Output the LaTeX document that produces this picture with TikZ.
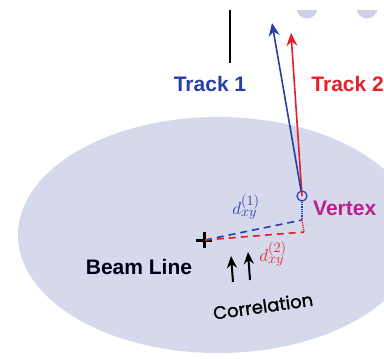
\documentclass[tikz,border=0pt]{standalone}
\usepackage{fontspec}
\setsansfont{Liberation Sans}
\newfontfamily\handfont[FakeBold=1.2]{Poppins}
\usetikzlibrary{arrows.meta}

\definecolor{beamspot}{RGB}{214,216,235}
\definecolor{padgray}{RGB}{206,209,229}
\definecolor{trkblue}{RGB}{38,62,172}
\definecolor{trkred}{RGB}{226,34,42}
\definecolor{vtxmag}{RGB}{184,32,140}

\tikzset{
  lbl/.style={font=\sffamily\bfseries\fontsize{21}{24}\selectfont, inner sep=0pt},
  dlbl/.style={font=\fontsize{19}{22}\selectfont, inner sep=0pt},
  corrlbl/.style={font=\handfont\fontsize{18}{21}\selectfont, inner sep=0pt},
  trkarrow/.style={line width=1.6pt, -{Stealth[length=13pt,width=11pt]}},
  dca/.style={line width=1.6pt, dash pattern=on 7pt off 5pt},
  proj/.style={line width=1.3pt, densely dotted},
  corrarrow/.style={line width=2pt, -{Stealth[length=12pt,width=10pt]}}
}

\begin{document}
\begin{tikzpicture}[x=1pt,y=-1pt]
\useasboundingbox (0,0) rectangle (384,359);
\begin{scope}
\clip (0,0) rectangle (384,359);

% transverse beam spot and detector pads
\begin{scope}
\clip (0,10) rectangle (384,359);
\fill[beamspot] (218,235) ellipse [x radius=200, y radius=118];
\fill[padgray] (307,8) circle (10.5);
\fill[padgray] (367,8) circle (10.5);
\end{scope}
\draw[line width=1.3pt] (230,10) -- (230,63);

% points
\coordinate (beam) at (205,240);
\coordinate (tip1) at (272,23);
\coordinate (tip2) at (291,33);
\coordinate (dca1) at (302,220);
\coordinate (dca2) at (304,232);
\node[draw=trkblue, circle, line width=1.2pt, minimum size=10pt, inner sep=0pt] (vertex) at (302,196) {};

% beam line
\draw[line width=3pt] (196,240) -- (212,240) (204,232) -- (204,248);

% tracks
\draw[trkarrow, trkred] (vertex.center) -- (tip2);
\draw[trkarrow, trkblue] (vertex) -- (tip1);

% transverse distances
\draw[dca, trkblue] (beam) -- (dca1);
\draw[dca, trkred] (beam) -- (dca2);
\draw[proj, trkblue] (vertex) -- (dca1);
\draw[proj, trkred] (dca1) -- (dca2);

% correlation arrows
\coordinate (c1s) at (233,282);
\coordinate (c1e) at (231,256);
\coordinate (c2s) at (250,280);
\coordinate (c2e) at (248,252);
\draw[corrarrow] (c1s) -- (c1e);
\draw[corrarrow] (c2s) -- (c2e);

% labels
\node[lbl, trkblue] (trk1) at (210,84) {Track 1};
\node[lbl, trkred, anchor=east] (trk2) at (384,84) {Track 2};
\node[lbl, vtxmag, anchor=west] (vtxlbl) at (313,208) {Vertex};
\node[lbl, black!90!blue] (beamlbl) at (139,267) {Beam Line};
\node[dlbl, trkblue] (d1) at (246,207) {$d_{xy}^{(1)}$};
\node[dlbl, trkred] (d2) at (273,254) {$d_{xy}^{(2)}$};
\node[corrlbl, rotate=8] (corr) at (263,306) {Correlation};
\end{scope}
\end{tikzpicture}
\end{document}
